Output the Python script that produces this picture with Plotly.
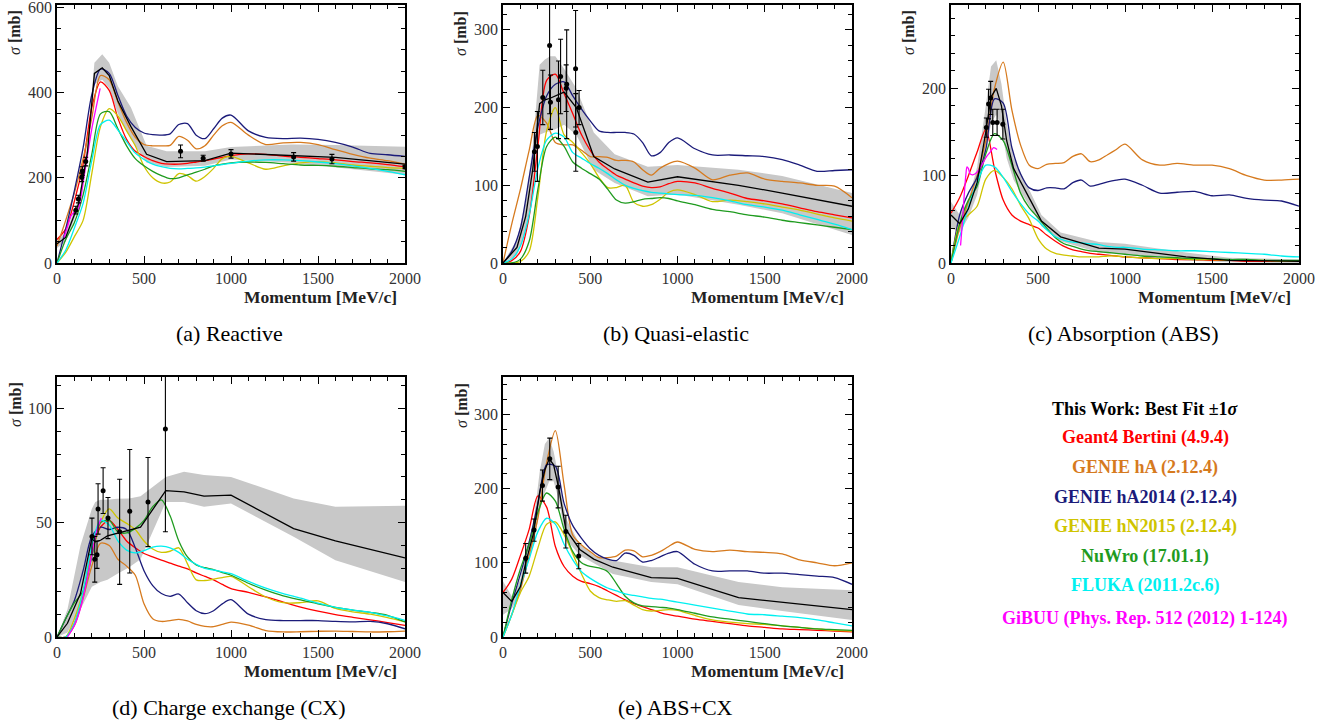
import plotly.graph_objects as go

# ---------------- data ----------------
MOM = [0, 50, 100, 150, 200, 250, 300, 350, 400, 450, 500, 550, 600, 650, 700, 750, 800, 850, 900, 950, 1000,
       1100, 1200, 1300, 1400, 1500, 1600, 1700, 1800, 1900, 2000]

# (a) Reactive
REAC_G4 = [55, 80, 145, 232, 365, 425, 405, 340, 290, 262, 250, 240, 234, 232, 232, 234, 237, 240, 244, 248, 252,
           256, 255, 251, 248, 245, 242, 238, 235, 231, 226]
REAC_HA = [40, 100, 165, 245, 340, 440, 430, 378, 330, 295, 278, 275, 275, 276, 297, 288, 268, 275, 300, 322, 330,
           300, 278, 282, 283, 278, 266, 255, 246, 240, 232]
REAC_HA2014 = [0, 80, 170, 270, 395, 455, 445, 393, 345, 318, 305, 301, 300, 303, 325, 327, 300, 292, 315, 340, 347,
               310, 295, 292, 293, 290, 283, 272, 257, 254, 250]
REAC_HN2015 = [0, 25, 62, 100, 210, 320, 362, 345, 310, 275, 227, 200, 188, 190, 210, 205, 192, 203, 222, 245, 250,
               235, 220, 228, 235, 238, 235, 230, 227, 224, 222]
REAC_NUWRO = [0, 55, 95, 160, 255, 350, 355, 315, 275, 245, 228, 215, 205, 198, 200, 207, 213, 220, 228, 232, 235,
              237, 236, 233, 230, 229, 227, 224, 221, 219, 215]
REAC_FLUKA = [0, 30, 82, 140, 240, 325, 335, 312, 285, 258, 243, 232, 226, 222, 221, 222, 223, 225, 228, 231, 234,
              239, 242, 242, 240, 237, 233, 228, 222, 215, 207]
GIBUU_REAC_X = [40, 60, 80, 100, 120, 140, 160, 180, 200, 225, 248]
GIBUU_REAC_Y = [60, 85, 110, 120, 125, 160, 215, 265, 315, 365, 410]
FIT_REAC_X = [0, 50, 125, 175, 215, 260, 300, 350, 425, 515, 630, 850, 1000, 1350, 1600, 2000]
FIT_REAC_Y = [45, 60, 140, 260, 445, 458, 440, 380, 320, 255, 238, 240, 258, 252, 248, 232]
FIT_REAC_HI = [55, 70, 150, 280, 470, 490, 470, 415, 365, 275, 262, 262, 272, 278, 277, 273]
FIT_REAC_LO = [35, 50, 130, 240, 420, 430, 410, 350, 290, 235, 225, 228, 243, 235, 225, 207]
DATA_REAC_X = [108, 123, 142, 146, 165, 710, 840, 1000, 1360, 1580, 2000]
DATA_REAC_Y = [124, 150, 201, 216, 238, 262, 246, 256, 249, 244, 225]
DATA_REAC_E = [9, 9, 10, 10, 10, 15, 7, 10, 10, 11, 4]

# (b) Quasi-elastic
QE_G4 = [0, 3, 15, 60, 150, 235, 243, 218, 192, 165, 145, 130, 121, 113, 108, 103, 99, 97, 98, 102, 105,
         103, 96, 90, 83, 80, 76, 71, 66, 62, 58]
QE_HA = [0, 50, 95, 145, 190, 180, 155, 152, 152, 145, 137, 137, 136, 132, 132, 130, 120, 113, 122, 128, 131,
         122, 107, 113, 116, 108, 105, 103, 100, 99, 84]
QE_HA2014 = [0, 15, 45, 110, 175, 215, 230, 233, 215, 198, 183, 170, 168, 168, 168, 166, 155, 138, 142, 155, 161,
             147, 139, 139, 138, 137, 133, 126, 118, 119, 120]
QE_HN2015 = [0, 0, 2, 15, 85, 170, 200, 165, 155, 142, 128, 110, 97, 97, 100, 78, 73, 75, 82, 91, 94,
             88, 79, 81, 79, 76, 72, 68, 63, 58, 54]
QE_NUWRO = [0, 0, 5, 28, 95, 150, 162, 150, 130, 122, 115, 108, 95, 81, 77, 79, 82, 83, 84, 83, 80,
            75, 69, 66, 62, 59, 55, 52, 49, 46, 43]
QE_FLUKA = [0, 5, 22, 62, 122, 158, 167, 162, 142, 135, 128, 122, 115, 107, 100, 96, 93, 91, 90, 89, 88,
            87, 84, 80, 75, 72, 68, 62, 56, 50, 43]
FIT_QE_X = [0, 80, 130, 170, 210, 240, 270, 300, 350, 420, 520, 640, 830, 1000, 1350, 1600, 2000]
FIT_QE_Y = [0, 20, 60, 120, 205, 210, 212, 215, 220, 200, 137, 121, 104, 111, 100, 90, 73]
FIT_QE_HI = [0, 30, 80, 150, 255, 262, 266, 266, 250, 225, 168, 140, 124, 126, 120, 112, 90]
FIT_QE_LO = [0, 10, 40, 90, 165, 168, 170, 172, 178, 165, 120, 103, 86, 88, 75, 64, 36]
DATA_QE_X = [180, 197, 228, 267, 272, 318, 330, 362, 365, 416, 417, 436]
DATA_QE_Y = [143, 150, 213, 280, 207, 210, 240, 225, 230, 250, 168, 200]
DATA_QE_E = [25, 45, 35, 88, 35, 50, 48, 30, 70, 75, 50, 22]

# (c) Absorption
ABS_G4 = [57, 75, 100, 127, 153, 108, 72, 55, 48, 44, 40, 32, 25, 19, 15, 13, 11, 10, 9, 8, 7,
          6, 5, 4, 4, 3, 3, 2, 2, 2, 2]
ABS_HA = [0, 40, 70, 100, 140, 200, 230, 175, 135, 112, 108, 113, 114, 115, 122, 125, 116, 118, 124, 130, 136,
          118, 112, 114, 112, 112, 108, 100, 95, 95, 96]
ABS_HA2014 = [0, 55, 80, 98, 130, 188, 183, 132, 102, 86, 83, 86, 86, 85, 92, 95, 88, 90, 93, 95, 96,
              89, 80, 81, 82, 77, 78, 74, 72, 71, 65]
ABS_HN2015 = [0, 45, 55, 65, 96, 106, 98, 85, 66, 50, 28, 16, 11, 9, 8, 7, 7, 7, 8, 8, 7,
              6, 5, 5, 4, 4, 3, 3, 3, 2, 2]
ABS_NUWRO = [0, 45, 72, 88, 125, 148, 140, 112, 80, 63, 52, 40, 29, 22, 19, 16, 14, 13, 12, 11, 10,
             8, 7, 6, 5, 5, 4, 4, 3, 3, 3]
ABS_FLUKA = [0, 30, 64, 92, 112, 110, 98, 82, 68, 56, 48, 38, 30, 26, 24, 23, 22, 21, 19, 18, 18,
             16, 15, 14, 14, 13, 12, 11, 10, 8, 7]
GIBUU_ABS_X = [55, 65, 75, 85, 92, 100, 110, 125, 145, 165, 185, 205, 225, 245, 265]
GIBUU_ABS_Y = [20, 45, 75, 100, 110, 108, 102, 101, 103, 108, 115, 122, 127, 132, 130]
FIT_ABS_X = [0, 50, 100, 150, 200, 230, 260, 290, 320, 360, 440, 520, 630, 850, 1000, 1350, 1600, 2000]
FIT_ABS_Y = [55, 45, 62, 92, 150, 190, 200, 180, 140, 108, 78, 48, 30, 17, 16, 7, 3, 2]
FIT_ABS_HI = [70, 55, 72, 110, 180, 225, 232, 205, 160, 120, 88, 55, 35, 24, 22, 12, 6, 4]
FIT_ABS_LO = [40, 35, 52, 78, 125, 160, 170, 155, 120, 95, 68, 42, 25, 12, 10, 3, 1, 0]
DATA_ABS_X = [203, 216, 228, 240, 265, 298]
DATA_ABS_Y = [155, 182, 189, 161, 161, 159]
DATA_ABS_E = [11, 17, 19, 15, 15, 17]

# (d) Charge exchange
CX_G4 = [0, 0, 6, 18, 37, 48, 51, 47, 42, 39, 36.5, 35, 33.6, 32.3, 31, 29.8, 28, 26.5, 25, 23, 21.2,
         19.5, 17.5, 15.3, 13.1, 11.3, 9.8, 8.6, 7.5, 6.3, 5.1]
CX_HA = [0, 0, 5, 17, 31, 41, 40, 34, 31, 27, 14.5, 8, 6.8, 7.2, 7.7, 7, 5.5, 4.6, 4.5, 5.5, 6.5,
         5.2, 2.8, 2.2, 2.3, 2.5, 2.6, 2.4, 2.2, 2.3, 2.6]
CX_HA2014 = [0, 8, 16, 29, 44, 48, 47, 48, 47, 39, 29, 22.5, 19, 17.8, 18.8, 15, 11.5, 10.2, 11.5, 14.5, 16.3,
             10, 7.6, 7.2, 7.2, 7.2, 6.8, 6.6, 6.8, 5.8, 3.6]
CX_HN2015 = [0, 0, 8, 20, 36, 50, 56, 52, 49.7, 47, 42, 38.5, 37, 37.5, 39, 32, 25, 24.7, 25.3, 26, 26.5,
             22, 17.5, 15, 15, 15.8, 12.5, 11, 10, 8.5, 6.6]
CX_NUWRO = [0, 8, 15, 20, 35, 50, 51, 46, 45.5, 47.5, 51, 57, 60, 53, 42, 35, 31.5, 30.3, 29.5, 28.2, 27,
            23.5, 20.5, 18, 16.2, 14.5, 13, 11.8, 10.8, 9.5, 6.6]
CX_FLUKA = [0, 0, 6, 20, 40, 51, 49, 42, 38, 36.8, 37.8, 39.3, 39.7, 39, 37, 34, 31.8, 30, 29.3, 28.5, 27.7,
            24.3, 21.4, 19, 17, 14.8, 13, 11.8, 10.8, 9.2, 7.3]
GIBUU_CX_X = [60, 100, 140, 180, 210, 235, 255]
GIBUU_CX_Y = [0, 5, 14, 28, 40, 48, 52]
FIT_CX_X = [0, 60, 135, 200, 220, 250, 290, 345, 415, 480, 625, 730, 845, 1000, 1360, 1600, 2000]
FIT_CX_Y = [0, 6, 19, 43, 41.6, 42.3, 44.2, 45.3, 46.7, 48, 64, 63.5, 61.6, 62, 47.4, 42, 34.6]
FIT_CX_HI = [0, 12, 40, 56, 59, 60, 60, 60.5, 60.6, 61.5, 70, 72.3, 70.8, 70, 60.6, 57, 57.4]
FIT_CX_LO = [0, 2, 12, 22, 23, 24, 25, 27.5, 30.5, 34, 59, 59, 57, 58.4, 43.8, 33.6, 24]
DATA_CX_X = [201, 217, 230, 236, 265, 293, 360, 418, 523, 623]
DATA_CX_Y = [44, 34, 36, 56, 64, 52, 46, 55, 59, 91]
DATA_CX_E = [8, 10, 6, 11, 10, 9, 23, 27, 19.5, 45]

# (e) ABS+CX
ABSCX_G4 = [60, 78, 110, 145, 190, 175, 122, 95, 82, 75, 72, 68, 62, 56, 50, 45, 41, 37, 33, 30, 28,
            24, 21, 18, 15, 13, 11, 10, 9, 8, 7]
ABSCX_HA = [0, 30, 65, 110, 160, 235, 278, 205, 137, 124, 115, 107, 107, 109, 117, 116, 108, 110, 115, 122, 128,
            118, 115, 117, 115, 114, 112, 104, 100, 96, 100]
ABSCX_HA2014 = [0, 45, 85, 128, 180, 232, 230, 180, 150, 133, 119, 110, 105, 103, 113, 110, 101, 103, 108, 113, 115,
                98, 89, 89, 89, 86, 86, 84, 82, 80, 71]
ABSCX_HN2015 = [0, 30, 60, 82, 120, 152, 155, 138, 112, 85, 62, 53, 50, 48, 49, 43, 37, 35, 36, 37, 36,
                29, 23, 20, 18, 17, 15, 13, 11, 9, 8]
ABSCX_NUWRO = [0, 50, 92, 125, 168, 194, 183, 145, 115, 100, 95, 93, 88, 72, 55, 46, 42, 41, 40, 39, 37,
               32, 27, 24, 21, 18, 15, 13, 11, 10, 9]
ABSCX_FLUKA = [0, 30, 70, 105, 142, 160, 152, 125, 104, 88, 79, 72, 66, 62, 58, 56, 54, 52, 51, 49, 47,
               43, 39, 35, 31, 30, 28, 26, 23, 19, 15]
FIT_ABSCX_X = [0, 50, 100, 130, 175, 210, 240, 265, 290, 320, 360, 440, 520, 630, 850, 1000, 1350, 1600, 2000]
FIT_ABSCX_Y = [60, 48, 68, 100, 140, 195, 225, 240, 232, 200, 145, 118, 105, 94, 80, 79, 53, 47, 37]
FIT_ABSCX_HI = [75, 55, 78, 112, 155, 222, 260, 268, 250, 215, 160, 125, 110, 103, 94, 94, 74, 67, 63]
FIT_ABSCX_LO = [30, 38, 58, 88, 125, 170, 195, 210, 210, 185, 132, 110, 100, 85, 74, 71, 43, 35, 23]
DATA_ABSCX_X = [130, 178, 226, 268, 316, 360, 434]
DATA_ABSCX_Y = [106, 144, 204, 240, 202, 142, 109]
DATA_ABSCX_E = [20, 15, 21, 28, 28, 22, 17]

LEGEND_LABELS = ["This Work: Best Fit ±1<i>σ</i>", "Geant4 Bertini (4.9.4)", "GENIE hA (2.12.4)",
                 "GENIE hA2014 (2.12.4)", "GENIE hN2015 (2.12.4)", "NuWro (17.01.1)",
                 "FLUKA (2011.2c.6)", "GiBUU (Phys. Rep. 512 (2012) 1-124)"]
CAPTIONS = ["(a) Reactive", "(b) Quasi-elastic", "(c) Absorption (ABS)", "(d) Charge exchange (CX)", "(e) ABS+CX"]

# ---------------- style ----------------
C_FIT = "black"
C_G4 = "#FF0000"
C_HA = "#D67A1E"
C_HA2014 = "#1B1B7A"
C_HN2015 = "#CFC400"
C_NUWRO = "#1F9B1F"
C_FLUKA = "#00F0F0"
C_GIBUU = "#FF00FF"
C_BAND = "#C8C8C8"
LEG_COLORS = [C_FIT, C_G4, C_HA, C_HA2014, C_HN2015, C_NUWRO, C_FLUKA, C_GIBUU]

W, H = 1330, 721
SERIF = "Liberation Serif"


def fx(px):
    return px / W


def fy(py):
    return 1 - py / H


panels = [
    dict(models=[REAC_G4, REAC_HA, REAC_HA2014, REAC_HN2015, REAC_NUWRO, REAC_FLUKA],
         gibuu=(GIBUU_REAC_X, GIBUU_REAC_Y),
         fit=(FIT_REAC_X, FIT_REAC_Y, FIT_REAC_HI, FIT_REAC_LO),
         data=(DATA_REAC_X, DATA_REAC_Y, DATA_REAC_E),
         xpx=(57, 405), ypx=(5, 263), ymax=605.4, dy=200, dymin=50),
    dict(models=[QE_G4, QE_HA, QE_HA2014, QE_HN2015, QE_NUWRO, QE_FLUKA],
         gibuu=None,
         fit=(FIT_QE_X, FIT_QE_Y, FIT_QE_HI, FIT_QE_LO),
         data=(DATA_QE_X, DATA_QE_Y, DATA_QE_E),
         xpx=(503, 852), ypx=(5, 263), ymax=332, dy=100, dymin=20),
    dict(models=[ABS_G4, ABS_HA, ABS_HA2014, ABS_HN2015, ABS_NUWRO, ABS_FLUKA],
         gibuu=(GIBUU_ABS_X, GIBUU_ABS_Y),
         fit=(FIT_ABS_X, FIT_ABS_Y, FIT_ABS_HI, FIT_ABS_LO),
         data=(DATA_ABS_X, DATA_ABS_Y, DATA_ABS_E),
         xpx=(951, 1299), ypx=(5, 263), ymax=295.4, dy=100, dymin=20),
    dict(models=[CX_G4, CX_HA, CX_HA2014, CX_HN2015, CX_NUWRO, CX_FLUKA],
         gibuu=(GIBUU_CX_X, GIBUU_CX_Y),
         fit=(FIT_CX_X, FIT_CX_Y, FIT_CX_HI, FIT_CX_LO),
         data=(DATA_CX_X, DATA_CX_Y, DATA_CX_E),
         xpx=(57, 405), ypx=(377, 637), ymax=113.7, dy=50, dymin=10),
    dict(models=[ABSCX_G4, ABSCX_HA, ABSCX_HA2014, ABSCX_HN2015, ABSCX_NUWRO, ABSCX_FLUKA],
         gibuu=None,
         fit=(FIT_ABSCX_X, FIT_ABSCX_Y, FIT_ABSCX_HI, FIT_ABSCX_LO),
         data=(DATA_ABSCX_X, DATA_ABSCX_Y, DATA_ABSCX_E),
         xpx=(503, 852), ypx=(377, 637), ymax=350.3, dy=100, dymin=20),
]
MODEL_COLORS = [C_G4, C_HA, C_HA2014, C_HN2015, C_NUWRO, C_FLUKA]

fig = go.Figure()
layout = dict(width=W, height=H, margin=dict(l=0, r=0, t=0, b=0, autoexpand=False),
              paper_bgcolor="white", plot_bgcolor="white", showlegend=False)
annotations = []


def axis_style(rng, dtick, mdtick):
    return dict(range=rng, tick0=0, dtick=dtick, ticks="inside", ticklen=7, tickwidth=1.3,
                tickcolor="black", showline=True, linecolor="black", linewidth=1.6,
                mirror="allticks", showgrid=False, zeroline=False, automargin=False,
                ticklabeloverflow="allow",
                minor=dict(tick0=0, dtick=mdtick, ticks="inside", ticklen=4, tickwidth=1.1,
                           tickcolor="black", showgrid=False),
                tickfont=dict(family=SERIF, size=16, color="#333333"))


for i, p in enumerate(panels):
    n = "" if i == 0 else str(i + 1)
    xa, ya = "x" + n, "y" + n
    xs = axis_style([0, 2000], 500, 100)
    xs.update(domain=[fx(p["xpx"][0]), fx(p["xpx"][1])], anchor=ya)
    ys = axis_style([0, p["ymax"]], p["dy"], p["dymin"])
    ys.update(domain=[fy(p["ypx"][1]), fy(p["ypx"][0])], anchor=xa)
    layout["xaxis" + n] = xs
    layout["yaxis" + n] = ys

    fxs, fys, fhi, flo = p["fit"]
    fig.add_trace(go.Scatter(x=fxs + fxs[::-1], y=fhi + flo[::-1], fill="toself", fillcolor=C_BAND,
                             line=dict(width=0), mode="lines", xaxis=xa, yaxis=ya, hoverinfo="skip"))
    for vals, col in zip(p["models"], MODEL_COLORS):
        fig.add_trace(go.Scatter(x=MOM, y=vals, mode="lines",
                                 line=dict(color=col, width=1.3, shape="spline", smoothing=0.8),
                                 xaxis=xa, yaxis=ya))
    if p["gibuu"] is not None:
        gx, gy = p["gibuu"]
        fig.add_trace(go.Scatter(x=gx, y=gy, mode="lines",
                                 line=dict(color=C_GIBUU, width=1.3, shape="spline", smoothing=0.8),
                                 xaxis=xa, yaxis=ya))
    fig.add_trace(go.Scatter(x=fxs, y=fys, mode="lines", line=dict(color=C_FIT, width=1.3),
                             xaxis=xa, yaxis=ya))
    dx, dyv, de = p["data"]
    fig.add_trace(go.Scatter(x=dx, y=dyv, mode="markers", marker=dict(color="black", size=5),
                             error_y=dict(type="data", array=de, color="black", thickness=1.1, width=2.5),
                             xaxis=xa, yaxis=ya))

    # axis titles
    x0, x1 = p["xpx"]
    y0, y1 = p["ypx"]
    annotations.append(dict(text="<b>Momentum [MeV/c]</b>", x=fx(x1 - 6), y=fy(y1 + 34),
                            xref="paper", yref="paper", xanchor="right", yanchor="middle", showarrow=False,
                            font=dict(family=SERIF, size=17.5, color="#222222")))
    annotations.append(dict(text="<i>σ</i> <b>[mb]</b>", x=fx(x0 - 42), y=fy(y0 + 28),
                            xref="paper", yref="paper", xanchor="center", yanchor="middle", showarrow=False,
                            textangle=-90, font=dict(family=SERIF, size=16, color="#222222")))
    annotations.append(dict(text=CAPTIONS[i], x=fx((x0 + x1) / 2 - 2), y=fy(y1 + 70),
                            xref="paper", yref="paper", xanchor="center", yanchor="middle", showarrow=False,
                            font=dict(family=SERIF, size=22, color="black")))

# legend as text lines
LEG_Y = [409, 438, 467, 497, 526, 556, 585, 618]
for lab, col, ly in zip(LEGEND_LABELS, LEG_COLORS, LEG_Y):
    annotations.append(dict(text="<b>" + lab + "</b>", x=fx(1145), y=fy(ly), xref="paper", yref="paper",
                            xanchor="center", yanchor="middle", showarrow=False,
                            font=dict(family=SERIF, size=18, color=col)))

layout["annotations"] = annotations
fig.update_layout(**layout)
fig.write_html("out.html", config={"displayModeBar": False},
               post_script="document.body.style.margin='0';document.body.style.overflow='hidden';")
